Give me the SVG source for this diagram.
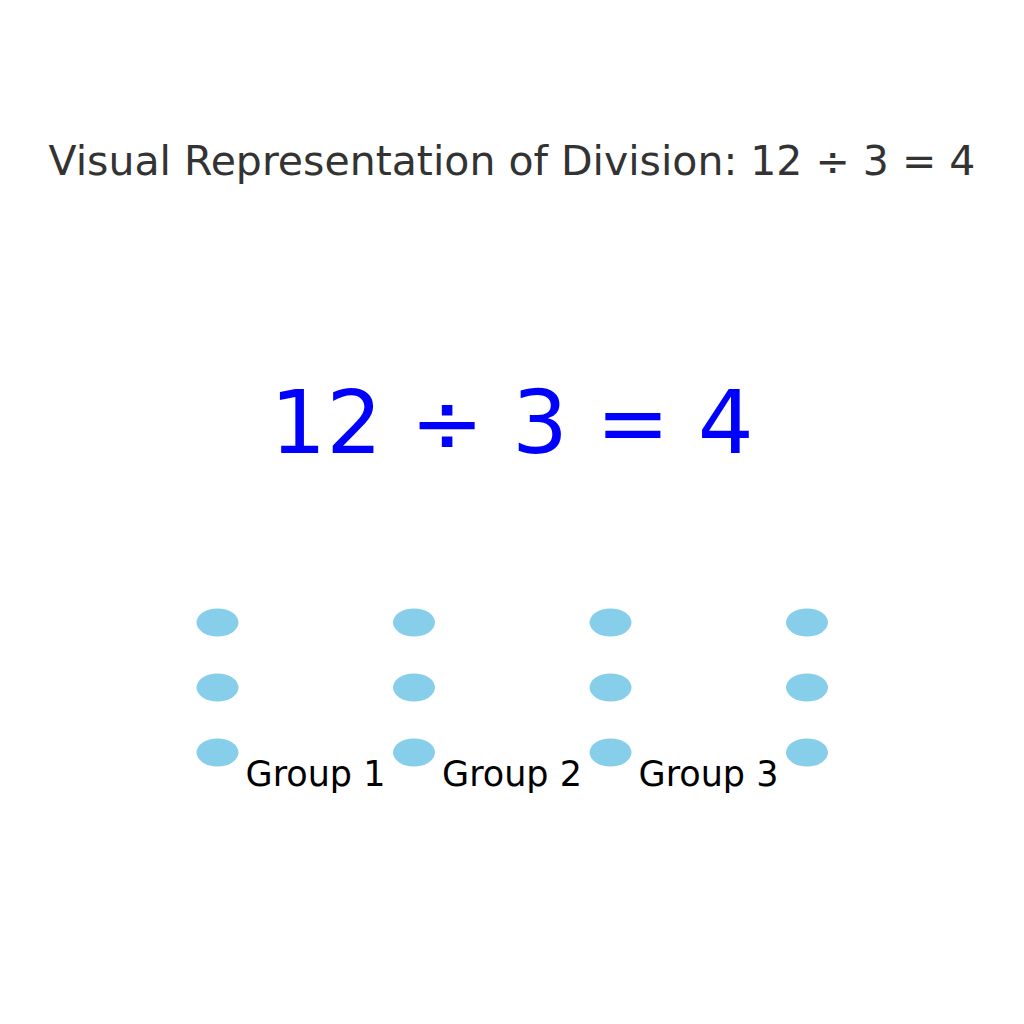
<svg xmlns="http://www.w3.org/2000/svg" width="1024" height="1024" viewBox="0 0 1024 1024">
<style>
text{font-family:"DejaVu Sans","Liberation Sans",sans-serif;text-anchor:middle}
.title{font-size:41px;fill:#333333}
.eq{font-size:88px;fill:#0000ff}
.lbl{font-size:35px;fill:#000000}
.dot{fill:#87ceeb}
</style>
<rect width="1024" height="1024" fill="#ffffff"/>
<g id="title"><text class="title" x="512" y="175">Visual Representation of Division: 12 ÷ 3 = 4</text></g>
<g id="equation"><text class="eq" x="512" y="453">12 ÷ 3 = 4</text></g>
<g id="dots">
<g id="col1"><ellipse class="dot" cx="217.5" cy="622.5" rx="21" ry="14"/><ellipse class="dot" cx="217.5" cy="687.5" rx="21" ry="14"/><ellipse class="dot" cx="217.5" cy="752.5" rx="21" ry="14"/></g>
<g id="col2"><ellipse class="dot" cx="414" cy="622.5" rx="21" ry="14"/><ellipse class="dot" cx="414" cy="687.5" rx="21" ry="14"/><ellipse class="dot" cx="414" cy="752.5" rx="21" ry="14"/></g>
<g id="col3"><ellipse class="dot" cx="610.5" cy="622.5" rx="21" ry="14"/><ellipse class="dot" cx="610.5" cy="687.5" rx="21" ry="14"/><ellipse class="dot" cx="610.5" cy="752.5" rx="21" ry="14"/></g>
<g id="col4"><ellipse class="dot" cx="807" cy="622.5" rx="21" ry="14"/><ellipse class="dot" cx="807" cy="687.5" rx="21" ry="14"/><ellipse class="dot" cx="807" cy="752.5" rx="21" ry="14"/></g>
</g>
<g id="labels">
<text class="lbl" x="315.5" y="786">Group 1</text>
<text class="lbl" x="512" y="786">Group 2</text>
<text class="lbl" x="708.5" y="786">Group 3</text>
</g>
<g id="connectors"/>
</svg>
